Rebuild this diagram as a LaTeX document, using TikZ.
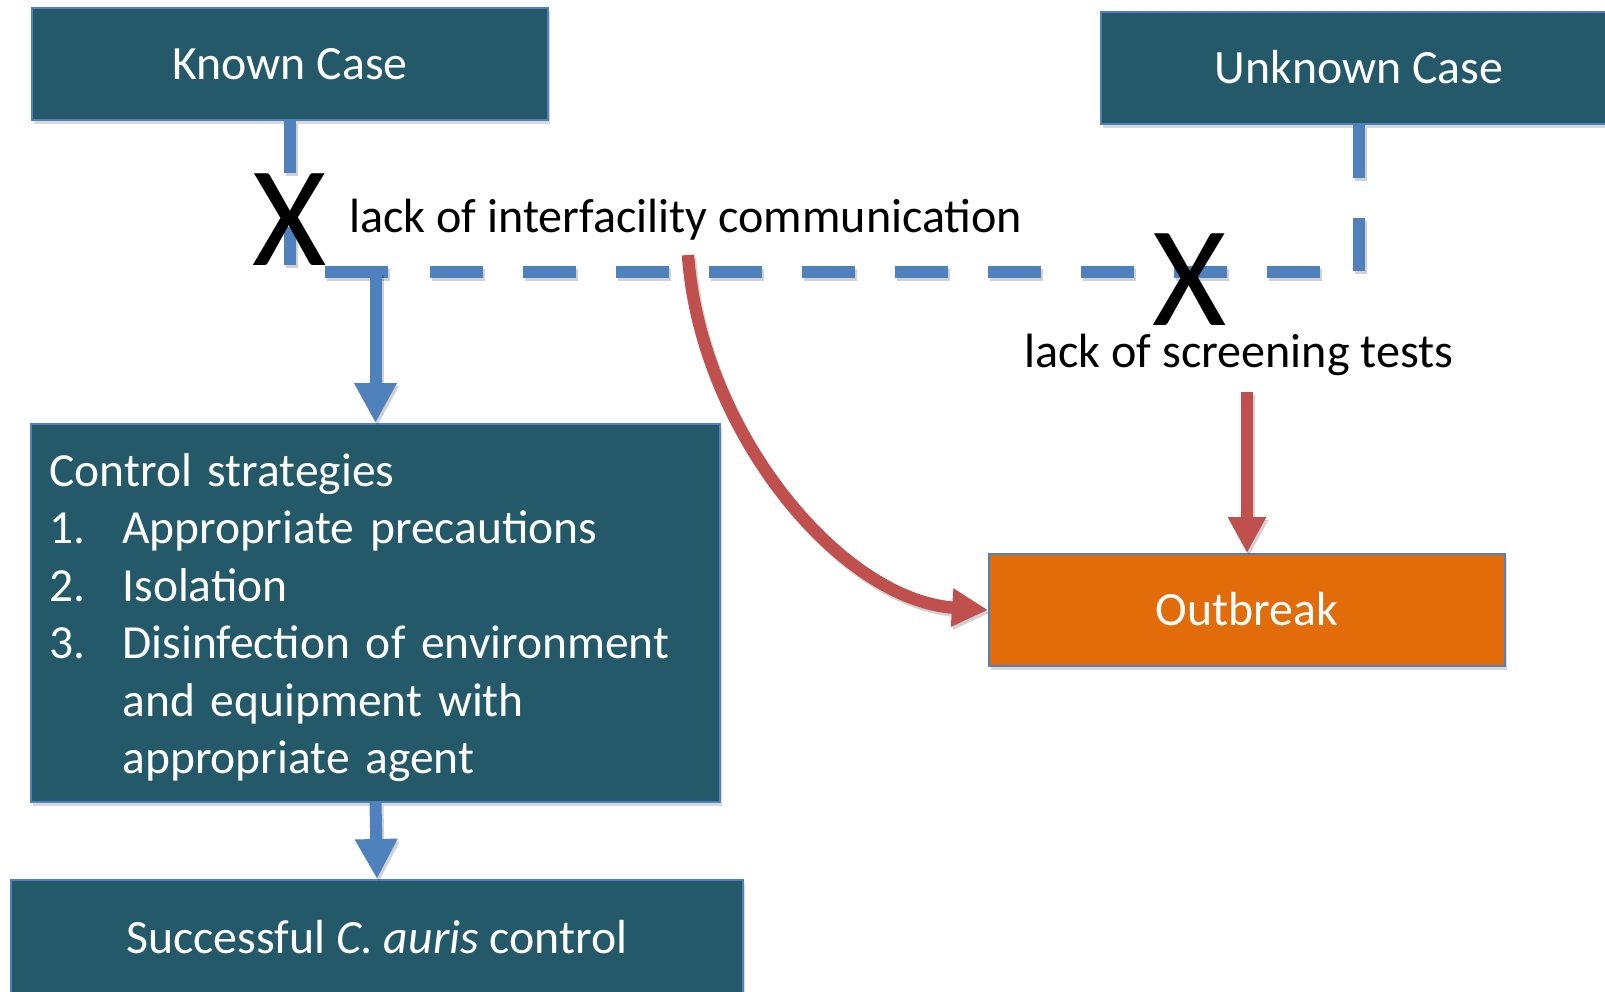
\documentclass[tikz,border=0pt]{standalone}
\usepackage{fontspec}
\setmainfont{Carlito}
\usetikzlibrary{arrows.meta,shadows}
\definecolor{boxteal}{RGB}{35,89,104}
\definecolor{edgeblue}{RGB}{79,129,189}
\definecolor{arrred}{RGB}{192,80,77}
\definecolor{outorange}{RGB}{227,108,10}
\tikzset{
  boxshadow/.style={drop shadow={shadow xshift=1.2pt, shadow yshift=-2pt, opacity=0.3}},
  box/.style={draw=edgeblue, line width=1pt, fill=boxteal, text=white,
    font=\fontsize{23.9}{28.7}\selectfont, inner sep=0pt,
    text height=15.4pt, text depth=0pt, boxshadow},
  ctrlbox/.style={draw=edgeblue, line width=1pt, fill=boxteal, text=white,
    font=\fontsize{23.75}{28.7}\selectfont, inner xsep=9.25pt, inner ysep=0pt,
    align=left, text width=326pt, boxshadow},
  lineshadow/.style={preaction={draw=black, opacity=0.18, line width=#1,
    transform canvas={xshift=1pt, yshift=-1.5pt}}},
  dashshadow/.style={preaction={draw=black, opacity=0.18, line width=6pt,
    dash pattern=on 26.5pt off 20pt,
    transform canvas={xshift=1pt, yshift=-1.5pt}}},
  blueline/.style={draw=edgeblue, line width=6pt},
  bluearrow/.style={blueline, -{Triangle[length=20pt,width=20pt]}},
  redarrow/.style={draw=arrred, line width=6.2pt, -{Triangle[length=18pt,width=18pt]}},
  xmark/.style={font=\fontsize{71.5}{80}\selectfont, inner sep=0pt, anchor=base},
  lbl/.style={font=\fontsize{24.05}{28.7}\selectfont, inner sep=0pt, anchor=base west},
}
\newcommand{\numitem}[1]{\makebox[36.5pt][l]{#1}}
\begin{document}
\begin{tikzpicture}[x=0.5pt, y=-0.5pt]
\useasboundingbox (0,0) rectangle (1605,991);

% boxes
\node[box, minimum width=258pt, minimum height=56pt] (known) at (290,64) {Known Case};
\node[box, minimum width=258pt, minimum height=56pt] (unknown) at (1359,68) {Unknown Case};
\node[ctrlbox, minimum width=344.5pt, minimum height=189pt] (control) at (375.5,613)
  {\rule{0pt}{\dimexpr\fontcharht\font`\l+4.5pt\relax}Control strategies\\
   \numitem{1.}Appropriate precautions\\
   \numitem{2.}Isolation\\
   \numitem{3.}Disinfection of environment\\
   \hspace*{36.5pt}and equipment with\\
   \hspace*{36.5pt}appropriate agent};
\node[box, fill=outorange, minimum width=258pt, minimum height=56pt] (outbreak) at (1247,610) {Outbreak};
\node[box, minimum width=366pt, minimum height=58pt] (success) at (377,938) {Successful \textit{C. auris} control};

% coordinates
\coordinate (kA) at (290,173);
\coordinate (kB) at (290,227);
\coordinate (kC) at (290,265);
\coordinate (hL) at (325,272);
\coordinate (hR) at (388,272);
\coordinate (elb) at (375.5,272);
\coordinate (uC) at (1359,272);
\coordinate (dEnd) at (393,272);
\coordinate (redS) at (688,255);
\coordinate (scrS) at (1247,392);

% blue connectors
\draw[blueline, lineshadow=6pt] (known.south) -- (kA);
\draw[blueline, lineshadow=6pt] (kB) -- (kC);
\draw[blueline, lineshadow=6pt] (hL) -- (hR);
\draw[bluearrow, lineshadow=6pt] (elb) -- (control.north);
\draw[blueline, dashshadow, dash pattern=on 26.5pt off 20pt] (unknown.south) -- (uC) -- (dEnd);
\draw[bluearrow, lineshadow=6pt] (control.south) -- (success.north);

% red connectors
\draw[redarrow, lineshadow=6.2pt] (redS) .. controls (700,430) and (840,600) .. (outbreak.west);
\draw[redarrow, lineshadow=6.2pt] (scrS) -- (outbreak.north);

% X marks and labels
\node[xmark] (x1) at (290,265) {X};
\node[xmark] (x2) at (1190,325) {X};
\node[lbl] (comm) at (349,232) {lack of interfacility communication};
\node[lbl] (screen) at (1024,367) {lack of screening tests};
\end{tikzpicture}
\end{document}
